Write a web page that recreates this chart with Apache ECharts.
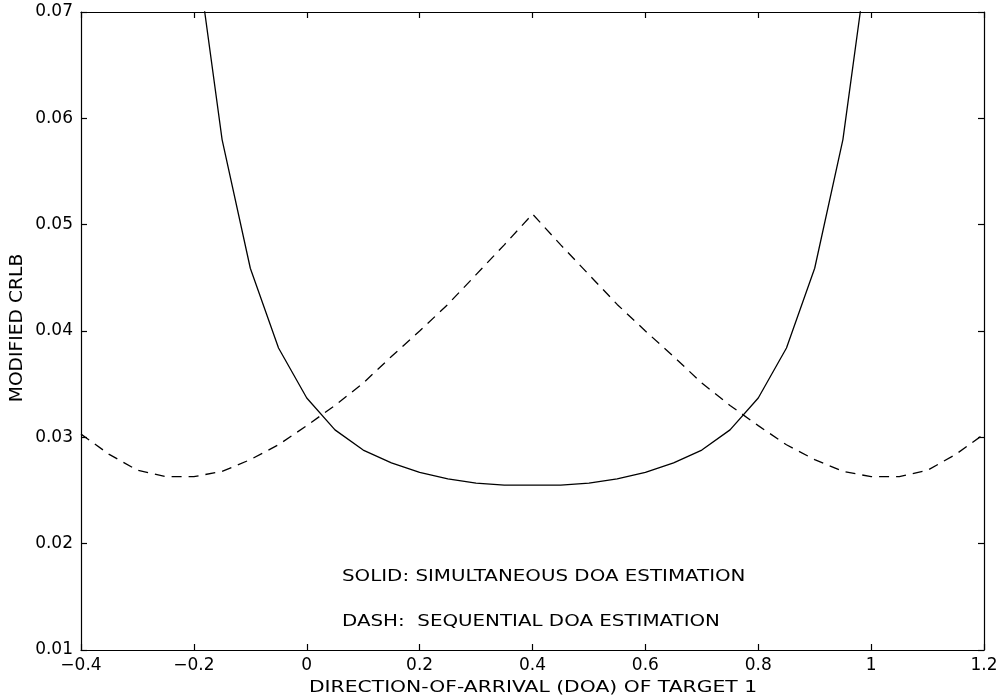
<!DOCTYPE html>
<html>
<head>
<meta charset="utf-8">
<script src="https://cdn.jsdelivr.net/npm/echarts@6/dist/echarts.min.js"></script>
<style>
  html, body { margin: 0; padding: 0; background: #fff; }
  #chart { width: 1002px; height: 698px; }
</style>
</head>
<body>
<div id="chart"></div>
<script>
// Direction of arrival of target 1 (shared abscissa)
const doaSolid = [-0.2, -0.15, -0.1, -0.05, 0.0, 0.05, 0.1, 0.15, 0.2, 0.25, 0.3, 0.35, 0.4,
                  0.45, 0.5, 0.55, 0.6, 0.65, 0.7, 0.75, 0.8, 0.85, 0.9, 0.95, 1.0];
// Modified CRLB, simultaneous DOA estimation
const crlbSimultaneous = [0.0775, 0.0580, 0.0459, 0.0384, 0.0337, 0.0307, 0.0288, 0.0276, 0.0267, 0.0261, 0.0257, 0.0255, 0.0255,
                          0.0255, 0.0257, 0.0261, 0.0267, 0.0276, 0.0288, 0.0307, 0.0337, 0.0384, 0.0459, 0.0580, 0.0775];

const doaDash = [-0.4, -0.35, -0.3, -0.25, -0.2, -0.15, -0.1, -0.05, 0.0, 0.05, 0.1, 0.15, 0.2, 0.25, 0.3, 0.35, 0.4,
                 0.45, 0.5, 0.55, 0.6, 0.65, 0.7, 0.75, 0.8, 0.85, 0.9, 0.95, 1.0, 1.05, 1.1, 1.15, 1.2];
// Modified CRLB, sequential DOA estimation
const crlbSequential = [0.0303, 0.0284, 0.0269, 0.0263, 0.0263, 0.0268, 0.0279, 0.0293, 0.0311, 0.0330, 0.0351, 0.0376, 0.0400, 0.0425, 0.0453, 0.0481, 0.0510,
                        0.0481, 0.0453, 0.0425, 0.0400, 0.0376, 0.0351, 0.0330, 0.0311, 0.0293, 0.0279, 0.0268, 0.0263, 0.0263, 0.0269, 0.0284, 0.0303];

const xTicks = { min: -0.4, max: 1.2, step: 0.2 };
const yTicks = { min: 0.01, max: 0.07, step: 0.01 };
const xTitle = 'DIRECTION-OF-ARRIVAL (DOA) OF TARGET 1';
const yTitle = 'MODIFIED CRLB';
const notes = ['SOLID: SIMULTANEOUS DOA ESTIMATION', 'DASH:  SEQUENTIAL DOA ESTIMATION'];

const FONT = '"DejaVu Sans", Arial, sans-serif';
const pair = (xs, ys) => xs.map((x, i) => [x, ys[i]]);

const fmtX = v => {
  const r = Math.round(v * 10) / 10;
  const s = String(Math.abs(r));
  return (r < 0 ? '\u2212' : '') + s;
};
const fmtY = v => (Math.round(v * 100) / 100).toFixed(2);

const baseAxisLine = { show: true, onZero: false, lineStyle: { color: '#000', width: 1.2 } };
const tickIn = { show: true, inside: true, length: 6, lineStyle: { color: '#000', width: 1.2 } };

// Wide sans text: drawn about its own anchor, stretched along the baseline
const wideText = (text, x, y, size, stretch, rotation, align) => ({
  type: 'text', x: x, y: y, rotation: rotation || 0, scaleX: stretch, scaleY: 1,
  style: { text: text, fill: '#000', font: size + 'px ' + FONT,
           textAlign: align || 'center', textVerticalAlign: 'middle' }
});

const chart = echarts.init(document.getElementById('chart'), null, { renderer: 'canvas' });
chart.setOption({
  animation: false,
  backgroundColor: '#fff',
  grid: { left: 81, right: 18, top: 12, bottom: 48, containLabel: false },
  xAxis: [
    {
      type: 'value', position: 'bottom',
      min: xTicks.min, max: xTicks.max, interval: xTicks.step,
      axisLine: baseAxisLine, axisTick: tickIn, splitLine: { show: false },
      axisLabel: { formatter: fmtX, color: '#000', fontFamily: FONT, fontSize: 17, margin: 7 }
    },
    {
      type: 'value', position: 'top',
      min: xTicks.min, max: xTicks.max, interval: xTicks.step,
      axisLine: baseAxisLine, axisTick: tickIn, splitLine: { show: false },
      axisLabel: { show: false }
    }
  ],
  yAxis: [
    {
      type: 'value', position: 'left',
      min: yTicks.min, max: yTicks.max, interval: yTicks.step,
      axisLine: baseAxisLine, axisTick: tickIn, splitLine: { show: false },
      axisLabel: { formatter: fmtY, color: '#000', fontFamily: FONT, fontSize: 17, margin: 8 }
    },
    {
      type: 'value', position: 'right',
      min: yTicks.min, max: yTicks.max, interval: yTicks.step,
      axisLine: baseAxisLine, axisTick: tickIn, splitLine: { show: false },
      axisLabel: { show: false }
    }
  ],
  series: [
    {
      name: 'Simultaneous', type: 'line', data: pair(doaSolid, crlbSimultaneous),
      showSymbol: false, clip: true, smooth: false,
      lineStyle: { color: '#000', width: 1.3, type: 'solid' }
    },
    {
      name: 'Sequential', type: 'line', data: pair(doaDash, crlbSequential),
      showSymbol: false, clip: true, smooth: false,
      lineStyle: { color: '#000', width: 1.3, type: [10, 7] }
    }
  ],
  graphic: [
    wideText(xTitle, 533, 688, 16, 1.27, 0),
    wideText(yTitle, 18, 328, 17, 1.10, Math.PI / 2),
    wideText(notes[0], 342, 577, 16, 1.24, 0, 'left'),
    wideText(notes[1], 342, 622, 16, 1.24, 0, 'left')
  ]
});
</script>
</body>
</html>
